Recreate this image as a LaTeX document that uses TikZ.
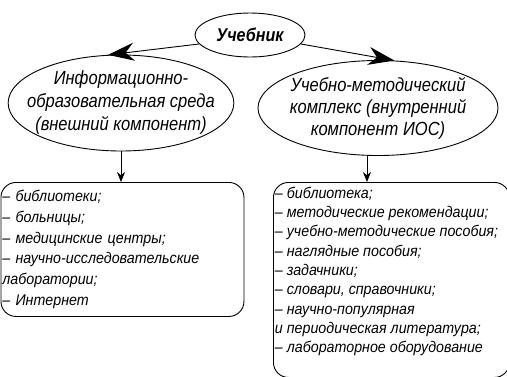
\documentclass[tikz,border=0pt]{standalone}
\usepackage{fontspec}
\setmainfont{Liberation Sans}
\newfontfamily\ovalfont{Liberation Sans}[FakeStretch=0.87]
\newfontfamily\listfont{Liberation Sans}[FakeStretch=0.92]
\usetikzlibrary{arrows.meta,shapes.geometric,positioning}

\tikzset{
  oval/.style={draw, ellipse, line width=0.9pt, inner ysep=0pt, inner xsep=-14pt, align=center,
    font=\ovalfont\itshape\fontsize{19}{23}\selectfont},
  listbox/.style={draw, line width=0.9pt, rounded corners=15pt, inner sep=1.5pt,
    anchor=north west, align=left},
  link/.style={-{Stealth[length=26pt,width=18pt]}, line width=0.9pt},
  drop/.style={-{Stealth[length=10pt,width=8pt]}, line width=0.9pt},
}

\begin{document}
\begin{tikzpicture}[x=1pt,y=-1pt]
\useasboundingbox (0,0) rectangle (507,376);

% top and the two components
\node[oval, minimum width=110pt, minimum height=44pt,
  font=\ovalfont\bfseries\itshape\fontsize{18.5}{20}\selectfont] (textbook) at (250,35) {Учебник};
\node[oval, minimum width=218pt, minimum height=96pt] (ios) at (121,103)
  {Информационно-\\образовательная среда\\(внешний компонент)};
\node[oval, minimum width=240pt, minimum height=95pt,
  font=\ovalfont\itshape\fontsize{19}{22}\selectfont] (umk) at (378,108)
  {Учебно-методический\\комплекс (внутренний\\компонент ИОС)};

% lists
\node[listbox, text width=240pt, minimum height=134pt,
  font=\listfont\itshape\fontsize{15.5}{20.8}\selectfont] (ioslist) at (0.5,182)
  {– библиотеки;\\– больницы;\\– медицинские центры;\\– научно-исследовательские\\лаборатории;\\– Интернет};
\node[listbox, inner ysep=4.5pt, font=\listfont\itshape\fontsize{15.5}{19.3}\selectfont] (umklist) at (273,182)
  {\parbox[t][186pt][t]{233pt}{\raggedright
   – библиотека;\\– методические рекомендации;\\– учебно-методические пособия;\\– наглядные пособия;\\– задачники;\\– словари, справочники;\\– научно-популярная\\и периодическая литература;\\– лабораторное оборудование}};

\draw[link] (textbook.190) -- (ios.105);
\draw[link] (textbook.-10) -- (umk.71);
\draw[drop] (ios.south) -- (ios.south |- ioslist.north);
\draw[drop] (umk.257) -- (umk.257 |- umklist.north);

\end{tikzpicture}
\end{document}
